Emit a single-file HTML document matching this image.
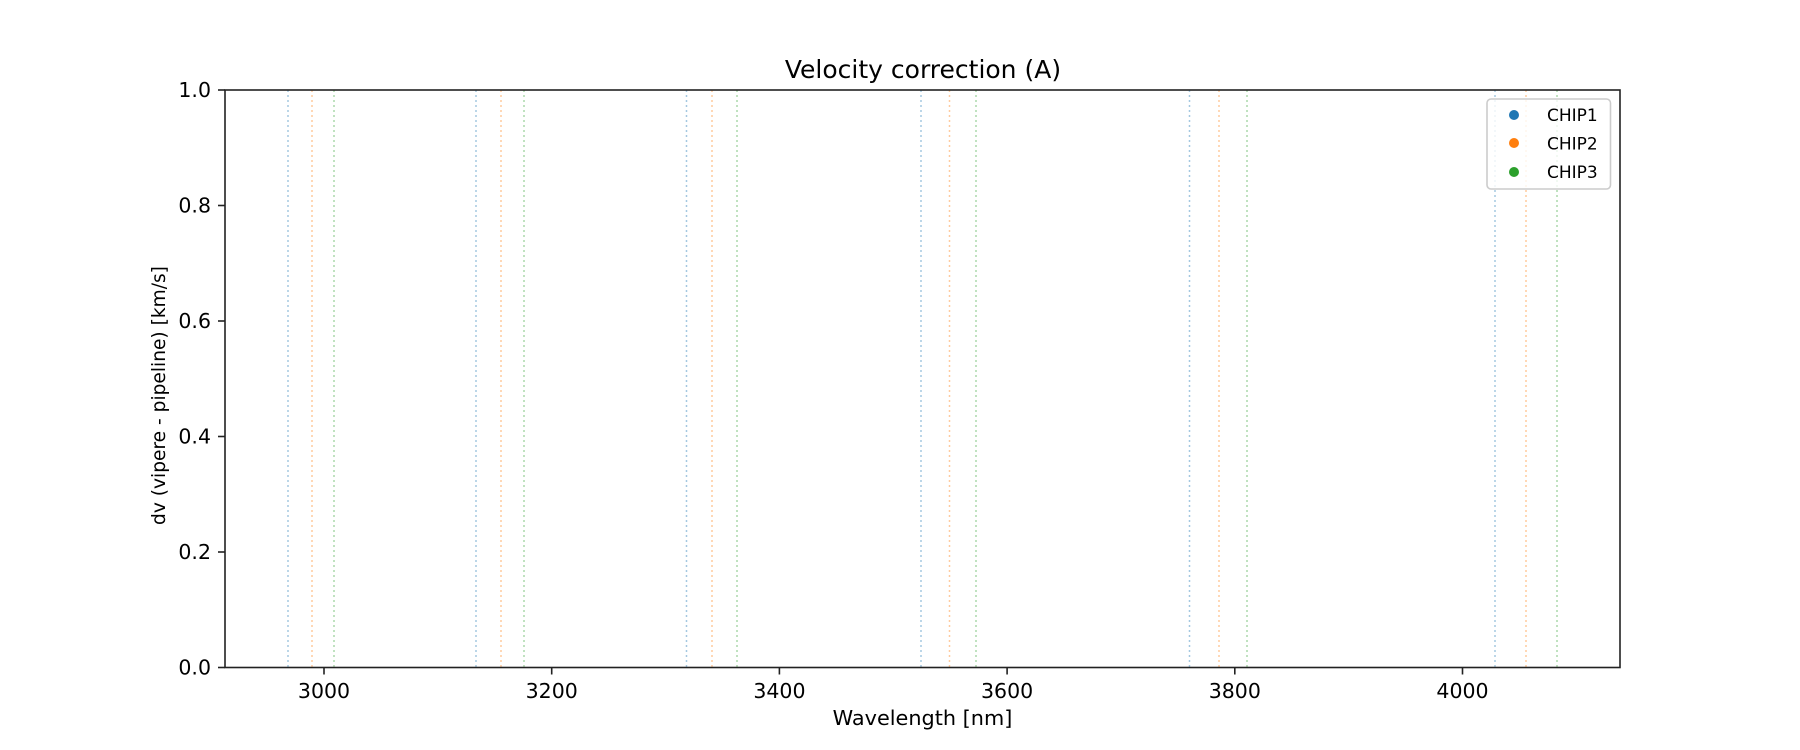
<!DOCTYPE html>
<html><head><meta charset="utf-8"><style>body{margin:0;background:#fff}svg{display:block}text{font-family:"DejaVu Sans","Liberation Sans",sans-serif;fill:#000}</style></head>
<body>
<svg width="1800" height="750" viewBox="0 0 1800 750" xmlns="http://www.w3.org/2000/svg">
<rect width="1800" height="750" fill="#fff"/>
<g stroke-width="1.5" stroke-dasharray="2,3" opacity="0.4">
<line x1="288" y1="90" x2="288" y2="667.5" stroke="#1f77b4"/>
<line x1="312" y1="90" x2="312" y2="667.5" stroke="#ff7f0e"/>
<line x1="334" y1="90" x2="334" y2="667.5" stroke="#2ca02c"/>
<line x1="476" y1="90" x2="476" y2="667.5" stroke="#1f77b4"/>
<line x1="501" y1="90" x2="501" y2="667.5" stroke="#ff7f0e"/>
<line x1="524" y1="90" x2="524" y2="667.5" stroke="#2ca02c"/>
<line x1="686.5" y1="90" x2="686.5" y2="667.5" stroke="#1f77b4"/>
<line x1="712" y1="90" x2="712" y2="667.5" stroke="#ff7f0e"/>
<line x1="737" y1="90" x2="737" y2="667.5" stroke="#2ca02c"/>
<line x1="921" y1="90" x2="921" y2="667.5" stroke="#1f77b4"/>
<line x1="949.5" y1="90" x2="949.5" y2="667.5" stroke="#ff7f0e"/>
<line x1="976" y1="90" x2="976" y2="667.5" stroke="#2ca02c"/>
<line x1="1189.5" y1="90" x2="1189.5" y2="667.5" stroke="#1f77b4"/>
<line x1="1219" y1="90" x2="1219" y2="667.5" stroke="#ff7f0e"/>
<line x1="1247" y1="90" x2="1247" y2="667.5" stroke="#2ca02c"/>
<line x1="1495" y1="90" x2="1495" y2="667.5" stroke="#1f77b4"/>
<line x1="1526" y1="90" x2="1526" y2="667.5" stroke="#ff7f0e"/>
<line x1="1557" y1="90" x2="1557" y2="667.5" stroke="#2ca02c"/>
</g>
<rect x="225" y="90" width="1395" height="577.5" fill="none" stroke="#222" stroke-width="1.6"/>
<g stroke="#222" stroke-width="1.6">
<line x1="324" y1="667.5" x2="324" y2="674.5"/><line x1="551.7" y1="667.5" x2="551.7" y2="674.5"/>
<line x1="779.4" y1="667.5" x2="779.4" y2="674.5"/><line x1="1007.1" y1="667.5" x2="1007.1" y2="674.5"/>
<line x1="1234.8" y1="667.5" x2="1234.8" y2="674.5"/><line x1="1462.5" y1="667.5" x2="1462.5" y2="674.5"/>
<line x1="218" y1="667.5" x2="225" y2="667.5"/><line x1="218" y1="552" x2="225" y2="552"/>
<line x1="218" y1="436.5" x2="225" y2="436.5"/><line x1="218" y1="321" x2="225" y2="321"/>
<line x1="218" y1="205.5" x2="225" y2="205.5"/><line x1="218" y1="90" x2="225" y2="90"/>
</g>
<g font-size="20.5" text-anchor="middle">
<text x="324" y="698">3000</text><text x="551.7" y="698">3200</text><text x="779.4" y="698">3400</text>
<text x="1007.1" y="698">3600</text><text x="1234.8" y="698">3800</text><text x="1462.5" y="698">4000</text>
</g>
<g font-size="20.5" text-anchor="end">
<text x="211" y="674.5">0.0</text><text x="211" y="559">0.2</text><text x="211" y="443.5">0.4</text>
<text x="211" y="328">0.6</text><text x="211" y="212.5">0.8</text><text x="211" y="97">1.0</text>
</g>
<text x="923" y="78" font-size="25" text-anchor="middle">Velocity correction (A)</text>
<text x="922.5" y="725" font-size="20.8" text-anchor="middle">Wavelength [nm]</text>
<text transform="translate(165,395.5) rotate(-90)" font-size="18.6" text-anchor="middle">dv (vipere - pipeline) [km/s]</text>
<rect x="1487" y="99" width="123.5" height="90" rx="4" fill="#fff" fill-opacity="0.8" stroke="#ccc" stroke-width="1.6"/>
<circle cx="1514" cy="115" r="5" fill="#1f77b4"/>
<circle cx="1514" cy="143" r="5" fill="#ff7f0e"/>
<circle cx="1514" cy="172" r="5" fill="#2ca02c"/>
<g font-size="17"><text x="1547" y="121">CHIP1</text><text x="1547" y="149.5">CHIP2</text><text x="1547" y="178">CHIP3</text></g>
</svg>
</body></html>
